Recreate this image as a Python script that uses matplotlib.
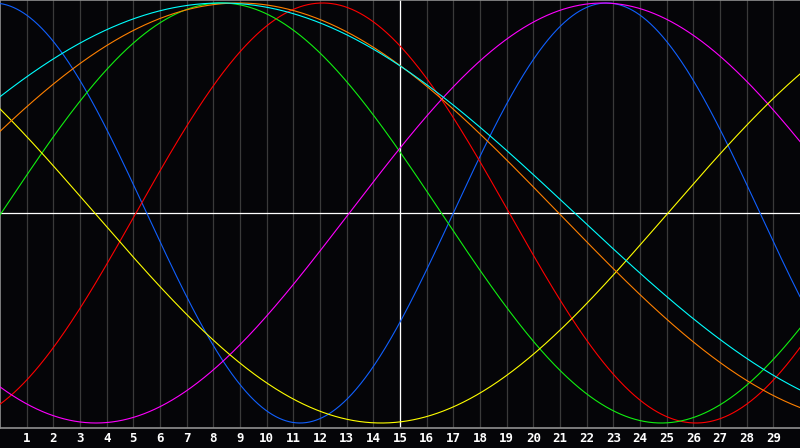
import numpy as np
import matplotlib
matplotlib.use("Agg")
from matplotlib import pyplot as plt

# biorhythm cycles: period (days) and day of the peak inside the window
names = ['physical', 'emotional', 'intellectual', 'intuitive', 'aesthetic', 'awareness', 'spiritual']
periods = [23, 28, 33, 38, 43, 48, 53]
peak_days = [22.75, 12.1, 8.3, 22.6, 35.8, 8.95, 8.3]
colors = ['#1060ff', '#ff0000', '#10f010', '#ff00ff', '#ffff00', '#ff8000', '#00ffff']

days = list(range(1, 30))
n_days = 30
today = 15

fig = plt.figure(figsize=(8, 4.48), dpi=100, facecolor='#050508')
ax = fig.add_axes([0, 20 / 448, 1, 428 / 448])
ax.set_facecolor('#050508')

for d in days:
    ax.axvline(d, color='#3a3a3a', lw=0.9, zorder=1)
ax.axvline(today, color='white', lw=0.9, zorder=2)
ax.axhline(0, color='white', lw=0.9, zorder=2)

t = np.linspace(0, n_days, 1201)
for name, p, pk, c in zip(names, periods, peak_days, colors):
    ax.plot(t, np.cos(2 * np.pi * (t - pk) / p), color=c, lw=0.8, zorder=3, label=name)

ax.set_xlim(0, n_days)
ax.set_ylim(-1 - 5 / 210, 1 + 3 / 210)
ax.set_xticks(days)
ax.set_xticklabels([str(d) for d in days], color='white', fontsize=9,
                   fontweight='bold', family='DejaVu Sans Mono')
ax.tick_params(axis='x', length=0, pad=3)
ax.set_yticks([])
for s in ['left', 'top', 'bottom']:
    ax.spines[s].set_color('#909090')
    ax.spines[s].set_linewidth(1.2)
ax.spines['right'].set_visible(False)

fig.savefig('out.png', dpi=100, facecolor=fig.get_facecolor())
